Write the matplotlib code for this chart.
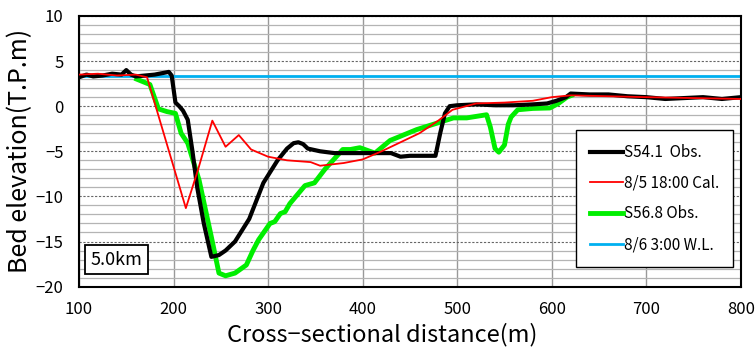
import matplotlib.pyplot as plt
from matplotlib.ticker import MultipleLocator

plt.rcParams['font.family'] = ['Noto Sans CJK JP', 'DejaVu Sans']

# S54.1 observed bed
obs54_x = [100, 108, 115, 125, 135, 145, 150, 155, 160, 170, 180, 190, 195, 198, 202, 206, 210, 215,
           220, 225, 232, 240, 248, 255, 265, 280, 295, 310, 320, 327, 332, 337, 342, 355, 370, 390,
           410, 430, 440, 450, 465, 477, 482, 487, 492, 500, 520, 540, 560, 580, 595, 605, 615, 620,
           640, 660, 680, 700, 720, 740, 760, 780, 800]
obs54_y = [3.2, 3.5, 3.3, 3.4, 3.6, 3.5, 4.0, 3.5, 3.3, 3.4, 3.5, 3.7, 3.8, 3.4, 0.4, 0.0, -0.5, -1.5,
           -5.0, -9.0, -13.0, -16.7, -16.5, -16.0, -15.0, -12.5, -8.5, -6.0, -4.7, -4.1, -4.0, -4.2,
           -4.7, -5.0, -5.2, -5.2, -5.2, -5.2, -5.6, -5.5, -5.5, -5.5, -3.0, -0.8, 0.0, 0.1, 0.2,
           0.1, 0.1, 0.2, 0.3, 0.6, 1.0, 1.4, 1.3, 1.3, 1.1, 1.0, 0.8, 0.9, 1.0, 0.8, 1.0]

# 8/5 18:00 calculated bed
cal_x = [100, 120, 140, 160, 172, 213, 226, 241, 255, 269, 282, 300, 320, 345, 355, 380, 400, 420,
         440, 460, 480, 495, 520, 550, 580, 600, 620, 660, 700, 750, 800]
cal_y = [3.5, 3.6, 3.4, 3.5, 3.2, -11.3, -7.0, -1.6, -4.5, -3.2, -4.8, -5.6, -6.0, -6.2, -6.6, -6.3,
         -5.9, -5.0, -4.0, -3.0, -1.6, -0.4, 0.3, 0.4, 0.6, 1.0, 1.2, 1.1, 1.0, 0.9, 0.8]

# S56.8 observed bed
obs56_x = [161, 175, 184, 193, 202, 208, 215, 227, 240, 248, 255, 265, 277, 284, 290, 302, 307, 313,
           318, 323, 339, 349, 360, 366, 379, 387, 397, 405, 413, 429, 443, 457, 478, 496, 510, 531,
           535, 540, 544, 550, 554, 557, 564, 580, 598, 607, 616, 621]
obs56_y = [3.0, 2.4, -0.3, -0.6, -0.8, -3.0, -4.1, -8.2, -14.5, -18.5, -18.8, -18.5, -17.6, -16.0,
           -14.8, -13.0, -12.8, -11.9, -11.7, -10.8, -8.8, -8.5, -7.0, -6.3, -4.8, -4.8, -4.6, -4.9,
           -5.2, -3.8, -3.2, -2.6, -1.9, -1.3, -1.3, -0.95, -2.3, -4.7, -5.1, -4.3, -2.0, -1.2, -0.4,
           -0.25, -0.2, 0.3, 1.0, 1.2]

# 8/6 3:00 water level
wl_x = [100, 800]
wl_y = [3.4, 3.4]

fig = plt.figure(figsize=(7.56, 3.47), dpi=100)
ax = fig.add_axes([0.1045, 0.174, 0.8755, 0.780])

ax.plot(obs54_x, obs54_y, color='black', lw=3.0, label='S54.1  Obs.', zorder=4)
ax.plot(cal_x, cal_y, color='#ff0000', lw=1.3, label='8/5 18:00 Cal.', zorder=5)
ax.plot(obs56_x, obs56_y, color='#00ee00', lw=3.5, label='S56.8 Obs.', zorder=3)
ax.plot(wl_x, wl_y, color='#00b0f0', lw=2.0, label='8/6 3:00 W.L.', zorder=2)

ax.set_xlim(100, 800)
ax.set_ylim(-20, 10)
ax.xaxis.set_major_locator(MultipleLocator(100))
ax.yaxis.set_major_locator(MultipleLocator(5))
ax.yaxis.set_minor_locator(MultipleLocator(1))
ax.tick_params(which='both', length=0, labelsize=12)
ax.tick_params(axis='x', pad=10)
ax.tick_params(axis='y', pad=11)
ax.grid(axis='y', which='minor', color='#b4b4b4', lw=0.9)
ax.grid(axis='y', which='major', color='#666666', lw=0.8, ls=(0, (2, 1.5)))
ax.grid(axis='x', which='major', color='#999999', lw=1.0)
for s in ax.spines.values():
    s.set_linewidth(1.5)

ax.set_xlabel('Cross\u2212sectional distance(m)', fontsize=17, labelpad=4, x=0.458)
ax.set_ylabel('Bed elevation(T.P.m)', fontsize=18, labelpad=2)

ax.text(0.018, 0.066, '5.0km', transform=ax.transAxes, fontsize=13, va='bottom', ha='left',
        bbox=dict(boxstyle='square,pad=0.3', fc='white', ec='black', lw=1.3), zorder=6)

leg = ax.legend(loc='lower right', bbox_to_anchor=(0.988, 0.073), borderaxespad=0, fontsize=11,
                handlelength=2.2, labelspacing=0.9, handletextpad=0.05, borderpad=0.9,
                frameon=True, fancybox=False, edgecolor='black', framealpha=1)
leg.get_frame().set_linewidth(1.0)
leg.set_zorder(7)

fig.savefig('out.png', dpi=100)
